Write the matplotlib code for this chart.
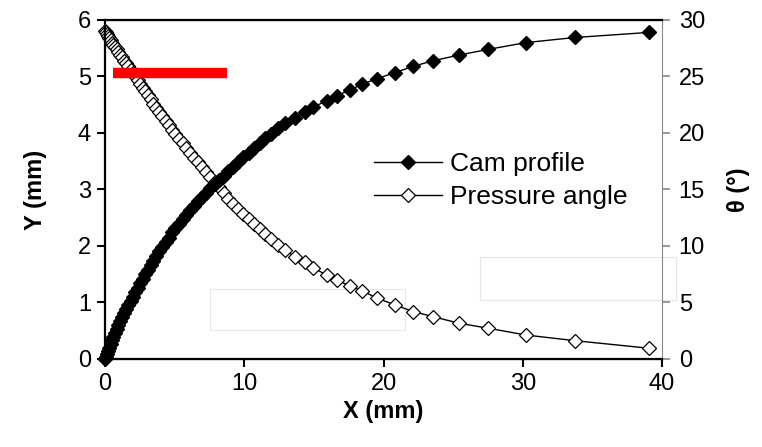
import matplotlib
matplotlib.use('Agg')
import matplotlib.pyplot as plt
from matplotlib.patches import Rectangle

plt.rcParams['font.family'] = ['Liberation Sans', 'DejaVu Sans']

# X (mm), shared by both series
x_mm = [0, 0.05, 0.12, 0.2, 0.3, 0.4, 0.5, 0.6, 0.72, 0.84, 0.96, 1.1, 1.24,
        1.38, 1.53, 1.68, 1.84, 2.0, 2.17, 2.34, 2.52, 2.7, 2.89, 3.08, 3.28,
        3.48, 3.69, 3.9, 4.12, 4.35, 4.58, 4.82, 5.06, 5.31, 5.57, 5.83, 6.1,
        6.38, 6.66, 6.95, 7.25, 7.56, 7.87, 8.19, 8.52, 8.86, 9.21, 9.57, 9.94,
        10.32, 10.71, 11.11, 11.52, 11.94, 12.43, 12.93, 13.64, 14.36, 14.96,
        15.92, 16.64, 17.59, 18.43, 19.51, 20.83, 22.14, 23.58, 25.44, 27.53,
        30.23, 33.75, 39.07]

# cam profile Y (mm)
cam_y = [0, 0.035, 0.08, 0.135, 0.2, 0.265, 0.33, 0.39, 0.46, 0.53, 0.6, 0.67,
         0.74, 0.81, 0.88, 0.95, 1.03, 1.1, 1.18, 1.26, 1.34, 1.42, 1.5, 1.58,
         1.66, 1.74, 1.83, 1.91, 1.99, 2.07, 2.15, 2.24, 2.32, 2.39, 2.47, 2.55,
         2.63, 2.71, 2.79, 2.87, 2.94, 3.02, 3.09, 3.16, 3.24, 3.32, 3.4, 3.48,
         3.57, 3.65, 3.74, 3.82, 3.91, 3.99, 4.08, 4.17, 4.27, 4.37, 4.46, 4.57,
         4.66, 4.76, 4.86, 4.96, 5.07, 5.18, 5.28, 5.38, 5.48, 5.6, 5.69, 5.78]

# pressure angle theta (deg)
theta = [29.0, 28.9, 28.75, 28.6, 28.4, 28.2, 28.0, 27.8, 27.6, 27.4, 27.2,
         26.9, 26.7, 26.4, 26.15, 25.9, 25.6, 25.3, 25.0, 24.7, 24.35, 24.0,
         23.7, 23.35, 23.0, 22.6, 22.25, 21.9, 21.5, 21.1, 20.7, 20.3, 19.9,
         19.5, 19.1, 18.7, 18.25, 17.8, 17.4, 17.0, 16.55, 16.1, 15.7, 15.2,
         14.7, 14.2, 13.75, 13.3, 12.85, 12.4, 11.95, 11.5, 11.05, 10.6, 10.1,
         9.65, 9.05, 8.55, 8.05, 7.43, 6.99, 6.46, 6.05, 5.4, 4.78, 4.19, 3.74,
         3.16, 2.72, 2.12, 1.62, 0.95]

# red marker bar
bar_x = [0.55, 8.78]
bar_y = [5.06, 5.06]

fig = plt.figure(figsize=(7.62, 4.47), dpi=100)
ax = fig.add_axes([0.1378, 0.1969, 0.731, 0.7584])
ax2 = ax.twinx()
ax.set_zorder(ax2.get_zorder() + 1)
ax.patch.set_visible(False)

# faint boxes in the background
ax2.add_patch(Rectangle((7.54, 2.57), 14.0, 3.62, facecolor='white',
                        edgecolor='#e6e6e6', lw=0.8, zorder=0))
ax2.add_patch(Rectangle((26.93, 5.22), 14.07, 3.81, facecolor='white',
                        edgecolor='#e6e6e6', lw=0.8, zorder=0, clip_on=False))

l2, = ax2.plot(x_mm, theta, color='black', lw=1, marker='D', ms=7.6,
               mfc='white', mec='black', mew=0.9, label='Pressure angle',
               clip_on=False)
l1, = ax.plot(x_mm, cam_y, color='black', lw=1, marker='D', ms=7.6,
              mfc='black', mec='black', label='Cam profile', clip_on=False)
ax.plot(bar_x, bar_y, color='#ff0000', lw=7.5, solid_capstyle='butt')

ax.set_xlim(0, 40)
ax.set_ylim(0, 6)
ax2.set_ylim(0, 30)
ax.set_xticks([0, 10, 20, 30, 40])
ax.set_yticks(range(0, 7))
ax2.set_yticks(range(0, 31, 5))

ax.tick_params(direction='out', length=6, width=1.5, labelsize=17, pad=4)
ax2.tick_params(direction='out', length=6, width=1.2, labelsize=17, pad=6,
                color='#888888')
for s in ['left', 'bottom', 'top']:
    ax.spines[s].set_linewidth(1.6)
ax.spines['right'].set_visible(False)
ax2.spines['right'].set_color('#888888')
ax2.spines['left'].set_visible(False)

ax.set_xlabel('X (mm)', fontsize=17, fontweight='bold', labelpad=4)
ax.set_ylabel('Y (mm)', fontsize=17, fontweight='bold', labelpad=22)
ax2.set_ylabel('θ (°)', fontsize=17, fontweight='bold', labelpad=16)

ax.legend([l1, l2], ['Cam profile', 'Pressure angle'], frameon=False,
          fontsize=19, loc='upper left', bbox_to_anchor=(0.44, 0.68),
          handlelength=2.6, labelspacing=0.35, handletextpad=0.3)

plt.savefig('out.png', dpi=100)
